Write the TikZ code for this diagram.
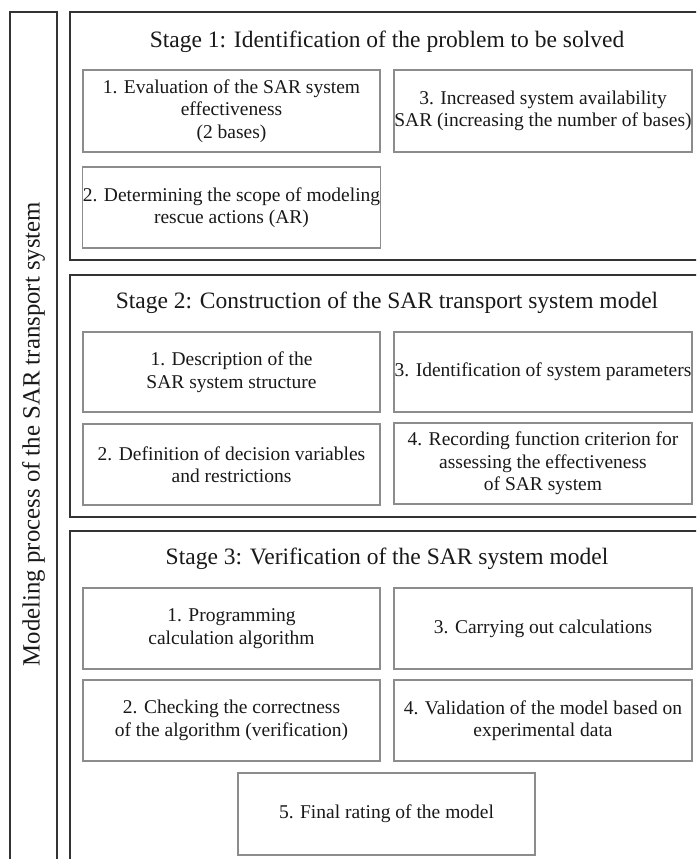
\documentclass[tikz,border=0pt]{standalone}
\usepackage{fontspec}
\setmainfont{Liberation Serif}
\begin{document}
\begin{tikzpicture}[x=1pt,y=-1pt,
  frame/.style={draw=black!80,line width=1.8pt},
  ibox/.style={draw=black!45,line width=1.2pt,minimum width=297pt,minimum height=81pt,inner sep=0pt,align=center,text=black!90,font=\fontsize{19.5}{22.5}\selectfont},
  title/.style={inner sep=0pt,text=black!90,font=\fontsize{23.5}{27}\selectfont}]
\useasboundingbox (0,0) rectangle (696,859);
\clip (0,0) rectangle (696,859);
\fill[white] (0,0) rectangle (696,859);
% frames
\draw[frame] (10,900) -- (10,12) -- (57,12) -- (57,900);
\draw[frame] (720,12) -- (70,12) -- (70,260) -- (720,260);
\draw[frame] (720,275) -- (70,275) -- (70,517) -- (720,517);
\draw[frame] (720,531) -- (70,531) -- (70,900);
\node[title,rotate=90,font=\fontsize{24.8}{28}\selectfont] (side) at (33.5,434) {Modeling process of the SAR transport system};
% stage 1
\node[title] (t1) at (387,42) {Stage 1: Identification of the problem to be solved};
\node[ibox,minimum height=82pt] (s1a) at (231.5,111) {1. Evaluation of the SAR system\\effectiveness\\(2 bases)};
\node[ibox,minimum height=82pt,minimum width=298pt] (s1c) at (543,111) {3. Increased system availability\\SAR (increasing the number of bases)};
\node[ibox] (s1b) at (231.5,207.5) {2. Determining the scope of modeling\\rescue actions (AR)};
% stage 2
\node[title] (t2) at (387,303) {Stage 2: Construction of the SAR transport system model};
\node[ibox,minimum height=80pt] (s2a) at (231.5,372) {1. Description of the\\SAR system structure};
\node[ibox,minimum height=80pt,minimum width=298pt] (s2c) at (543,372) {3. Identification of system parameters};
\node[ibox] (s2b) at (231.5,464.5) {2. Definition of decision variables\\and restrictions};
\node[ibox,minimum width=298pt] (s2d) at (543,463.5) {4. Recording function criterion for\\assessing the effectiveness\\of SAR system};
% stage 3
\node[title] (t3) at (387,559) {Stage 3: Verification of the SAR system model};
\node[ibox] (s3a) at (231.5,628.5) {1. Programming\\calculation algorithm};
\node[ibox,minimum width=298pt] (s3c) at (543,628.5) {3. Carrying out calculations};
\node[ibox] (s3b) at (231.5,720.5) {2. Checking the correctness\\of the algorithm (verification)};
\node[ibox,minimum width=298pt] (s3d) at (543,720.5) {4. Validation of the model based on\\experimental data};
\node[ibox,minimum height=82pt] (s3e) at (386.5,814) {5. Final rating of the model};
\end{tikzpicture}
\end{document}
